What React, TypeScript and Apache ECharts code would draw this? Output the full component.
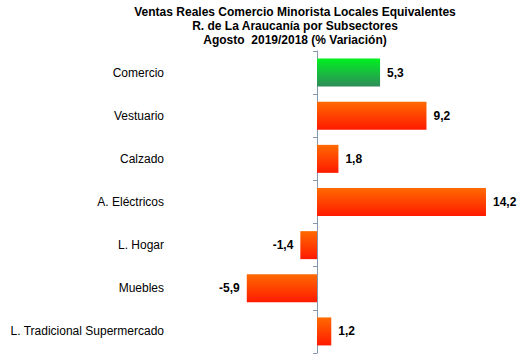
import React, { useEffect, useRef } from "react";
import * as echarts from "echarts";

const categories = [
  "Comercio",
  "Vestuario",
  "Calzado",
  "A. Eléctricos",
  "L. Hogar",
  "Muebles",
  "L. Tradicional Supermercado",
];
const values = [5.3, 9.2, 1.8, 14.2, -1.4, -5.9, 1.2];
const highlighted = ["Comercio"];
const titleLines = [
  "Ventas Reales Comercio Minorista Locales Equivalentes",
  "R. de La Araucanía por Subsectores",
  "Agosto  2019/2018 (% Variación)",
];

const FONT = "'Liberation Sans', Arial, sans-serif";

export default function App() {
  const ref = useRef<HTMLDivElement>(null);
  useEffect(() => {
    if (!ref.current) return;
    const chart = echarts.init(ref.current, null, { renderer: "svg" });
    const orange = new echarts.graphic.LinearGradient(0, 0, 0, 1, [
      { offset: 0, color: "#FF6A00" },
      { offset: 1, color: "#FF1A00" },
    ]);
    const green = new echarts.graphic.LinearGradient(0, 0, 0, 1, [
      { offset: 0, color: "#00F020" },
      { offset: 1, color: "#2E8B5A" },
    ]);
    chart.setOption({
      animation: false,
      backgroundColor: "#ffffff",
      title: {
        text: titleLines.join("\n"),
        left: 290,
        top: 0,
        textAlign: "center",
        textStyle: {
          fontFamily: FONT,
          fontSize: 12,
          fontWeight: "bold",
          color: "#000",
          lineHeight: 14,
        },
      },
      grid: { left: 198, right: 14.6, top: 51, bottom: 5, containLabel: false },
      xAxis: {
        type: "value",
        min: -10,
        max: 16,
        show: false,
      },
      yAxis: [
        {
          type: "category",
          data: categories,
          inverse: true,
          axisLine: { onZero: true, lineStyle: { color: "#8797AE", width: 1 } },
          axisTick: { show: true, length: 4, lineStyle: { color: "#8797AE" } },
          axisLabel: { show: false },
        },
        {
          type: "category",
          data: categories,
          inverse: true,
          position: "left",
          offset: 26,
          axisLine: { show: false, onZero: false },
          axisTick: { show: false },
          axisLabel: {
            fontFamily: FONT,
            fontSize: 12,
            color: "#000",
            margin: 8,
          },
        },
      ],
      series: [
        {
          type: "bar",
          yAxisIndex: 0,
          barWidth: 28,
          data: values.map((v, i) => ({
            value: v,
            itemStyle: {
              color: highlighted.includes(categories[i]) ? green : orange,
            },
            label: { position: v < 0 ? "left" : "right" },
          })),
          label: {
            show: true,
            distance: 7,
            fontFamily: FONT,
            fontSize: 12,
            fontWeight: "bold",
            color: "#000",
            formatter: (p: any) => p.value.toFixed(1).replace(".", ","),
          },
        },
      ],
    });
    return () => chart.dispose();
  }, []);
  return (
    <div
      ref={ref}
      style={{ position: "fixed", left: 0, top: 0, width: 522, height: 358 }}
    />
  );
}
